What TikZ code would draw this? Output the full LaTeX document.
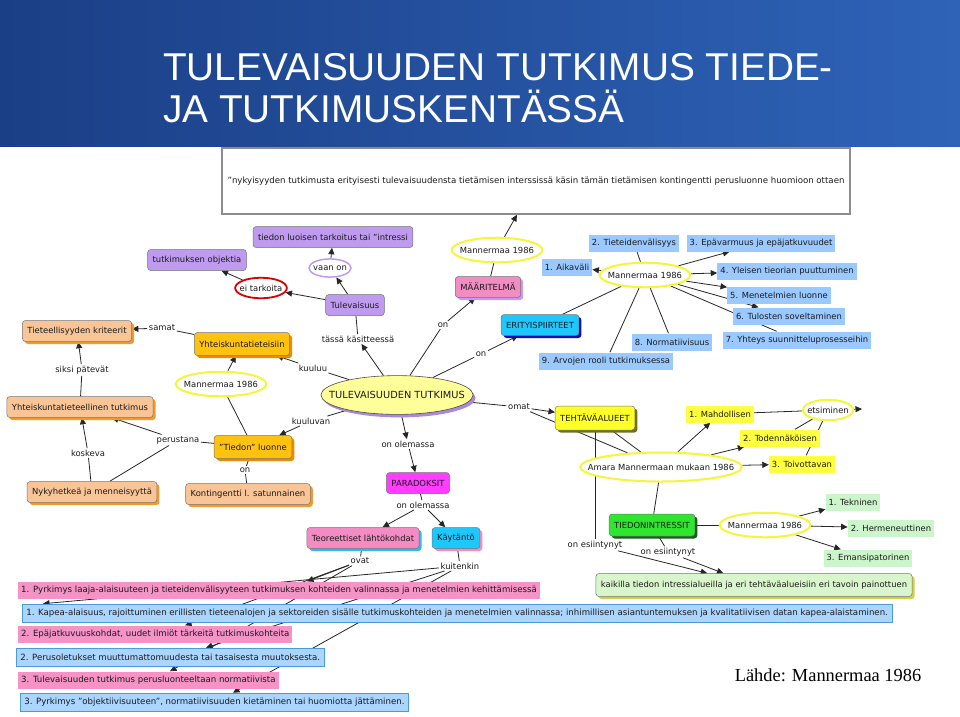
\documentclass[tikz,border=0pt]{standalone}
\usepackage{fontspec}
\setmainfont{DejaVu Sans}
\newfontfamily\titlefont{Liberation Sans}
\newfontfamily\srcfont{Liberation Serif}
\usetikzlibrary{arrows.meta,shapes.geometric,shadows,backgrounds}
\definecolor{hdrA}{HTML}{1B3F86}
\definecolor{hdrB}{HTML}{2E63B8}
\definecolor{purpleC}{HTML}{BF9BEF}
\definecolor{peachC}{HTML}{F9C597}
\definecolor{peachSh}{HTML}{F39B2A}
\definecolor{goldC}{HTML}{FFC20E}
\definecolor{goldSh}{HTML}{EE8A00}
\definecolor{pinkC}{HTML}{F48CC4}
\definecolor{lilacSh}{HTML}{C29BF2}
\definecolor{cyanC}{HTML}{1EC8FF}
\definecolor{navySh}{HTML}{1010B0}
\definecolor{yelC}{HTML}{FFFF2A}
\definecolor{oliveSh}{HTML}{707020}
\definecolor{greenC}{HTML}{2EE62E}
\definecolor{greenSh}{HTML}{156015}
\definecolor{magC}{HTML}{FF3CFF}
\definecolor{skySh}{HTML}{2EB8F5}
\definecolor{kaikC}{HTML}{D9F5CB}
\definecolor{kaikSh}{HTML}{D4D040}
\definecolor{lblBlue}{HTML}{99C9FF}
\definecolor{lblYel}{HTML}{FFFF40}
\definecolor{lblGreen}{HTML}{CCF5CC}
\definecolor{rowPink}{HTML}{F593C6}
\definecolor{rowBlue}{HTML}{A9D5FF}
\definecolor{rowBlueD}{HTML}{4E9AD8}
\definecolor{ovalYel}{HTML}{F5F53A}
\definecolor{mainC}{HTML}{FFFF99}
\definecolor{mainSh}{HTML}{AA88DD}
\definecolor{txt}{HTML}{1A1A1A}
\begin{document}
\begin{tikzpicture}[x=1pt,y=-1pt,
  every node/.style={text=txt, font=\fontsize{8.4}{9.5}\selectfont},
  cbox/.style={rectangle, rounded corners=3pt, draw=black!55, line width=0.5pt, inner xsep=5pt, minimum height=21pt},
  purp/.style={cbox, fill=purpleC},
  peach/.style={cbox, fill=peachC, drop shadow={shadow xshift=2.5pt, shadow yshift=-2.5pt, fill=peachSh, opacity=1}},
  gold/.style={cbox, fill=goldC, drop shadow={shadow xshift=2.5pt, shadow yshift=-2.5pt, fill=goldSh, opacity=1}},
  lbl/.style={inner sep=1.5pt},
  oval/.style={ellipse, draw=ovalYel, line width=2pt, fill=white, inner xsep=-5pt, inner ysep=5.5pt},
  plainlbl/.style={rectangle, inner xsep=3pt, minimum height=17pt},
  blbl/.style={plainlbl, fill=lblBlue},
  ylbl/.style={plainlbl, fill=lblYel},
  glbl/.style={plainlbl, fill=lblGreen},
  rowfont/.style={font=\fontsize{8.6}{9.5}\selectfont},
  prow/.style={rectangle, rowfont, fill=rowPink, inner xsep=3pt, minimum height=17pt, anchor=west},
  brow/.style={rectangle, rowfont, fill=rowBlue, draw=rowBlueD, line width=0.6pt, inner xsep=4pt, minimum height=18pt, anchor=west},
  ln/.style={line width=0.8pt, black!85},
  arr/.style={ln, -{Triangle[length=6.5pt,width=6pt]}}
]
\useasboundingbox (0,0) rectangle (960,716);
% header
\shade[left color=hdrA, right color=hdrB] (0,0) rectangle (960,146);
\node[anchor=base west, text=white, font=\titlefont\fontsize{38.8}{40}\selectfont, inner sep=0pt] (t1) at (163,80) {TULEVAISUUDEN TUTKIMUS TIEDE-};
\node[anchor=base west, text=white, font=\titlefont\fontsize{38.8}{40}\selectfont, inner sep=0pt] (t2) at (163,122) {JA TUTKIMUSKENTÄSSÄ};

% top box
\node[rectangle, draw=black!45, line width=1.5pt, fill=white, minimum width=628pt, minimum height=66pt, font=\fontsize{8.6}{9.5}\selectfont] (topbox) at (536,181) {"nykyisyyden tutkimusta erityisesti tulevaisuudensta tietämisen interssissä käsin tämän tietämisen kontingentti perusluonne huomioon ottaen};

% left part
\node[purp] (pTiedon) at (333,237) {tiedon luoisen tarkoitus tai "intressi};
\node[purp] (pObj) at (197,260) {tutkimuksen objektia};
\node[purp] (pTul) at (355,305) {Tulevaisuus};
\node[ellipse, draw=purpleC, line width=1.5pt, inner xsep=-2pt, inner ysep=4pt] (lVaan) at (330,268) {vaan on};
\node[ellipse, draw=red!85!black, line width=1.8pt, inner xsep=-3pt, inner ysep=4pt] (lEi) at (261,288) {ei tarkoita};
\node[peach] (oKrit) at (77,331) {Tieteellisyyden kriteerit};
\node[lbl] (lSamat) at (162,328) {samat};
\node[gold, minimum height=23pt] (gYht) at (242,344) {Yhteiskuntatieteisiin};
\node[lbl] (lSiksi) at (82,370) {siksi pätevät};
\node[oval] (oMan1) at (221,384) {Mannermaa 1986};
\node[peach] (oYtut) at (80,407) {Yhteiskuntatieteellinen tutkimus};
\node[lbl] (lKosk) at (88,453) {koskeva};
\node[lbl] (lPer) at (178,440) {perustana};
\node[gold, minimum height=23pt] (gTied) at (253,447) {"Tiedon" luonne};
\node[lbl] (lOn1) at (245,470) {on};
\node[peach] (oNyk) at (92,492) {Nykyhetkeä ja menneisyyttä};
\node[peach] (oKont) at (248,494) {Kontingentti l. satunnainen};

% center
\node[ellipse, fill=mainC, draw=black!70, line width=0.6pt, inner xsep=-14pt, inner ysep=10pt, font=\fontsize{9.8}{10.5}\selectfont, drop shadow={shadow xshift=2.5pt, shadow yshift=-3pt, fill=mainSh, opacity=1}] (main) at (397,395) {TULEVAISUUDEN TUTKIMUS};
\node[lbl] (lKuuluu) at (313,368) {kuuluu};
\node[lbl] (lTassa) at (358,339) {tässä käsitteessä};
\node[lbl] (lKuuluvan) at (311,421) {kuuluvan};
\node[lbl] (lOn2) at (443,325) {on};
\node[cbox, fill=pinkC, drop shadow={shadow xshift=2.5pt, shadow yshift=-2.5pt, fill=lilacSh, opacity=1}] (pMaar) at (488,287) {MÄÄRITELMÄ};
\node[oval] (oMan2) at (497,250) {Mannermaa 1986};
\node[lbl] (lOn3) at (481,354) {on};
\node[cbox, fill=cyanC, drop shadow={shadow xshift=2.5pt, shadow yshift=-2.5pt, fill=navySh, opacity=1}] (cErit) at (540,325) {ERITYISPIIRTEET};

% features
\node[oval] (oMan3) at (645,275) {Mannermaa 1986};
\node[blbl] (b1) at (567,267) {1. Aikaväli};
\node[blbl] (b2) at (634,243) {2. Tieteidenvälisyys};
\node[blbl] (b3) at (761,243) {3. Epävarmuus ja epäjatkuvuudet};
\node[blbl] (b4) at (787,271) {4. Yleisen tieorian puuttuminen};
\node[blbl] (b5) at (779,295) {5. Menetelmien luonne};
\node[blbl] (b6) at (789,316) {6. Tulosten soveltaminen};
\node[blbl] (b7) at (797,340) {7. Yhteys suunnitteluprosesseihin};
\node[blbl] (b8) at (672,342) {8. Normatiivisuus};
\node[blbl] (b9) at (606,361) {9. Arvojen rooli tutkimuksessa};

% tasks
\node[lbl] (lOmat) at (519,407) {omat};
\node[cbox, fill=yelC, minimum height=24pt, drop shadow={shadow xshift=2.5pt, shadow yshift=-2.5pt, fill=oliveSh, opacity=1}] (yTeh) at (595,418) {TEHTÄVÄALUEET};
\node[oval, inner xsep=-16pt, inner ysep=7pt] (oAmara) at (661,467) {Amara Mannermaan mukaan 1986};
\node[ylbl] (y1) at (720,414) {1. Mahdollisen};
\node[oval, inner xsep=-3pt, inner ysep=4pt] (oEts) at (828,410) {etsiminen};
\coordinate (etsEnd) at (862,409);
\node[ylbl] (y2) at (780,438) {2. Todennäköisen};
\node[ylbl] (y3) at (802,464) {3. Toivottavan};
\node[cbox, fill=greenC, minimum height=22pt, drop shadow={shadow xshift=2.5pt, shadow yshift=-2.5pt, fill=greenSh, opacity=1}] (gTiedon) at (652,525) {TIEDONINTRESSIT};
\node[oval] (oMan4) at (765,525) {Mannermaa 1986};
\node[glbl] (g1) at (853,502) {1. Tekninen};
\node[glbl] (g2) at (891,528) {2. Hermeneuttinen};
\node[glbl] (g3) at (868,558) {3. Emansipatorinen};
\node[lbl] (lEs1) at (595,545) {on esiintynyt};
\node[lbl] (lEs2) at (668,552) {on esiintynyt};
\node[cbox, fill=kaikC, minimum height=23pt, drop shadow={shadow xshift=2.5pt, shadow yshift=-2.5pt, fill=kaikSh, opacity=1}] (kaik) at (754,585) {kaikilla tiedon intressialueilla ja eri tehtäväalueisiin eri tavoin painottuen};

% paradoxes
\node[lbl] (lOlem1) at (408,444) {on olemassa};
\node[cbox, fill=magC] (mPar) at (418,483) {PARADOKSIT};
\node[lbl] (lOlem2) at (423,505) {on olemassa};
\node[cbox, fill=pinkC, drop shadow={shadow xshift=2.5pt, shadow yshift=-2.5pt, fill=skySh, opacity=1}] (pTeo) at (363,538) {Teoreettiset lähtökohdat};
\node[cbox, fill=cyanC, drop shadow={shadow xshift=2.5pt, shadow yshift=-2.5pt, fill=pinkC, opacity=1}] (cKay) at (456,538) {Käytäntö};
\node[lbl] (lOvat) at (360,561) {ovat};
\node[lbl] (lKuit) at (460,566) {kuitenkin};

% rows
\node[prow] (r1) at (18,590) {1. Pyrkimys laaja-alaisuuteen ja tieteidenvälisyyteen tutkimuksen kohteiden valinnassa ja menetelmien kehittämisessä};
\node[brow] (r2) at (22,613) {1. Kapea-alaisuus, rajoittuminen erillisten tieteenalojen ja sektoreiden sisälle tutkimuskohteiden ja menetelmien valinnassa; inhimillisen asiantuntemuksen ja kvalitatiivisen datan kapea-alaistaminen.};
\node[prow] (r3) at (18,634) {2. Epäjatkuvuuskohdat, uudet ilmiöt tärkeitä tutkimuskohteita};
\node[brow] (r4) at (16,657) {2. Perusoletukset muuttumattomuudesta tai tasaisesta muutoksesta.};
\node[prow] (r5) at (18,680) {3. Tulevaisuuden tutkimus perusluonteeltaan normatiivista};
\node[brow] (r6) at (20,702) {3. Pyrkimys "objektiivisuuteen", normatiivisuuden kietäminen tai huomiotta jättäminen.};

\node[font=\srcfont\fontsize{18.4}{20}\selectfont, text=black, inner sep=0pt] (src) at (828,675) {Lähde: Mannermaa 1986};

\begin{scope}[on background layer]
\draw[arr] (pTul) -- (lVaan);
\draw[arr] (lVaan) -- (pTiedon);
\draw[arr] (pTul) -- (lEi);
\draw[arr] (lEi) -- (pObj);
\draw[ln] (gYht) -- (lSamat);
\draw[arr] (lSamat) -- (oKrit);
\draw[ln] (oYtut) -- (lSiksi);
\draw[arr] (lSiksi) -- (oKrit);
\draw[ln] (oNyk) -- (lKosk);
\draw[arr] (lKosk) -- (oYtut);
\draw[ln] (gTied) -- (lPer);
\draw[ln] (oNyk) -- (lPer);
\draw[arr] (lPer) -- (oYtut);
\draw[ln] (gTied) -- (oMan1);
\draw[arr] (oMan1) -- (gYht);
\draw[ln] (gTied) -- (lOn1);
\draw[ln] (lOn1) -- (oKont);
\draw[ln] (main) -- (lKuuluu);
\draw[arr] (lKuuluu) -- (gYht);
\draw[arr] (main) -- (lTassa);
\draw[ln] (lTassa) -- (pTul);
\draw[ln] (main) -- (lKuuluvan);
\draw[arr] (lKuuluvan) -- (gTied);
\draw[ln] (main) -- (lOn2);
\draw[arr] (lOn2) -- (pMaar);
\draw[ln] (pMaar) -- (oMan2);
\draw[arr] (oMan2) -- (topbox);
\draw[ln] (main) -- (lOn3);
\draw[arr] (lOn3) -- (cErit);
\draw[ln] (cErit) -- (oMan3);
\draw[arr] (oMan3) -- (b1);
\draw[ln] (oMan3) -- (b2);
\draw[arr] (oMan3) -- (b3);
\draw[arr] (oMan3) -- (b4);
\draw[arr] (oMan3) -- (b5);
\draw[arr] (oMan3) -- (b6);
\draw[ln] (oMan3) -- (b7);
\draw[ln] (oMan3) -- (b8);
\draw[ln] (oMan3) -- (b9);
\draw[ln] (main) -- (lOmat);
\draw[arr] (lOmat) -- (yTeh);
\draw[ln] (lOmat) -- (oAmara);
\draw[ln] (yTeh) -- (oAmara);
\draw[ln] (yTeh.south) -- (yTeh.south |- lEs1.north);
\draw[ln] (oAmara) -- (gTiedon);
\draw[arr] (oAmara) -- (y1);
\draw[ln] (y1) -- (oEts);
\draw[arr] (oEts) -- (etsEnd);
\draw[arr] (oAmara) -- (y2);
\draw[ln] (y2) -- (oEts);
\draw[arr] (oAmara) -- (y3);
\draw[ln] (y3) -- (oEts);
\draw[ln] (gTiedon) -- (oMan4);
\draw[arr] (oMan4) -- (g1);
\draw[arr] (oMan4) -- (g2);
\draw[arr] (oMan4) -- (g3);
\draw[ln] (gTiedon) -- (lEs2);
\draw[arr] (lEs1) -- (kaik);
\draw[arr] (lEs2) -- (kaik);
\draw[arr] (main) -- (lOlem1);
\draw[arr] (lOlem1) -- (mPar);
\draw[ln] (mPar) -- (lOlem2);
\draw[arr] (lOlem2) -- (pTeo);
\draw[arr] (lOlem2) -- (cKay);
\draw[ln] (pTeo) -- (lOvat);
\draw[ln] (cKay) -- (lKuit);
\draw[arr] (lOvat) -- ([xshift=289pt]r1.north west);
\draw[arr] (lOvat) -- ([xshift=167pt]r3.north west);
\draw[arr] (lOvat) -- ([xshift=152pt]r5.north west);
\draw[arr] (lKuit) -- ([xshift=21pt]r2.north west);
\draw[arr] (lKuit) -- ([xshift=190pt]r4.north west);
\draw[arr] (lKuit) -- ([xshift=213pt]r6.north west);
\end{scope}
\end{tikzpicture}
\end{document}
